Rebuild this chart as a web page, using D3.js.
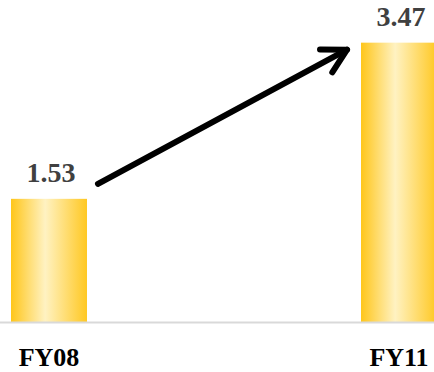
<!DOCTYPE html>
<html>
<head>
<meta charset="utf-8">
<script src="https://cdn.jsdelivr.net/npm/d3@7"></script>
<style>
  html, body { margin: 0; padding: 0; background: #fff; }
  svg { display: block; }
</style>
</head>
<body>
<svg id="chart" width="434" height="372"></svg>
<script>
// Fiscal-year values
const categories = ["FY08", "FY11"];
const values = [1.53, 3.47];
const valueLabels = ["1.53", "3.47"];

const W = 434, H = 372;
const svg = d3.select("#chart");

const x = d3.scaleBand()
  .domain(categories)
  .range([11, 437])
  .paddingInner(0.7829)
  .paddingOuter(0);

const y = d3.scaleLinear()
  .domain([0, 4])
  .range([322, 0]);

// horizontal gold gradient for the bars
const defs = svg.append("defs");
const grad = defs.append("linearGradient")
  .attr("id", "gold")
  .attr("x1", "0%").attr("x2", "100%")
  .attr("y1", "0%").attr("y2", "0%");
grad.append("stop").attr("offset", "0%").attr("stop-color", "#FFC61A");
grad.append("stop").attr("offset", "45%").attr("stop-color", "#FFF2C2");
grad.append("stop").attr("offset", "100%").attr("stop-color", "#FFC822");

const data = categories.map((c, i) => ({ cat: c, value: values[i], label: valueLabels[i] }));

svg.append("g").selectAll("rect")
  .data(data)
  .join("rect")
  .attr("x", d => x(d.cat))
  .attr("y", d => y(d.value))
  .attr("width", x.bandwidth())
  .attr("height", d => y(0) - y(d.value))
  .attr("fill", "url(#gold)");

// baseline axis
const xAxis = svg.append("g")
  .attr("transform", `translate(0,${y(0)})`)
  .call(d3.axisBottom(x).tickSize(0).tickPadding(26));
xAxis.select(".domain").remove();
xAxis.append("line")
  .attr("x1", 0).attr("x2", W)
  .attr("y1", 0.5).attr("y2", 0.5)
  .attr("stroke", "#d9d9d9")
  .attr("stroke-width", 2);
xAxis.selectAll(".tick text")
  .attr("font-family", "'Liberation Serif', 'DejaVu Serif', serif")
  .attr("font-weight", "bold")
  .attr("font-size", 26)
  .attr("fill", "#000");

// value labels
svg.append("g").selectAll("text")
  .data(data)
  .join("text")
  .attr("x", d => x(d.cat) + x.bandwidth() / 2 + 2)
  .attr("y", d => y(d.value) - 17)
  .attr("text-anchor", "middle")
  .attr("font-family", "'Liberation Serif', 'DejaVu Serif', serif")
  .attr("font-weight", "bold")
  .attr("font-size", 28)
  .attr("fill", "#404040")
  .text(d => d.label);

// growth arrow between the two value labels
const x0 = x(categories[0]) + x.bandwidth() + 11;
const y0 = y(values[0]) - 15;
const x1 = x(categories[1]) - 14;
const y1 = y(values[1]) + 7;
const ang = Math.atan2(y1 - y0, x1 - x0);
const arm = 27, spread = 0.5;
const arrow = svg.append("g")
  .attr("stroke", "#000")
  .attr("stroke-width", 6)
  .attr("stroke-linecap", "round")
  .attr("stroke-linejoin", "round")
  .attr("fill", "none");
arrow.append("line")
  .attr("x1", x0).attr("y1", y0)
  .attr("x2", x1).attr("y2", y1);
arrow.append("path")
  .attr("d", d3.line()([
    [x1 - arm * Math.cos(ang - spread), y1 - arm * Math.sin(ang - spread)],
    [x1, y1],
    [x1 - arm * Math.cos(ang + spread), y1 - arm * Math.sin(ang + spread)]
  ]));
</script>
</body>
</html>
